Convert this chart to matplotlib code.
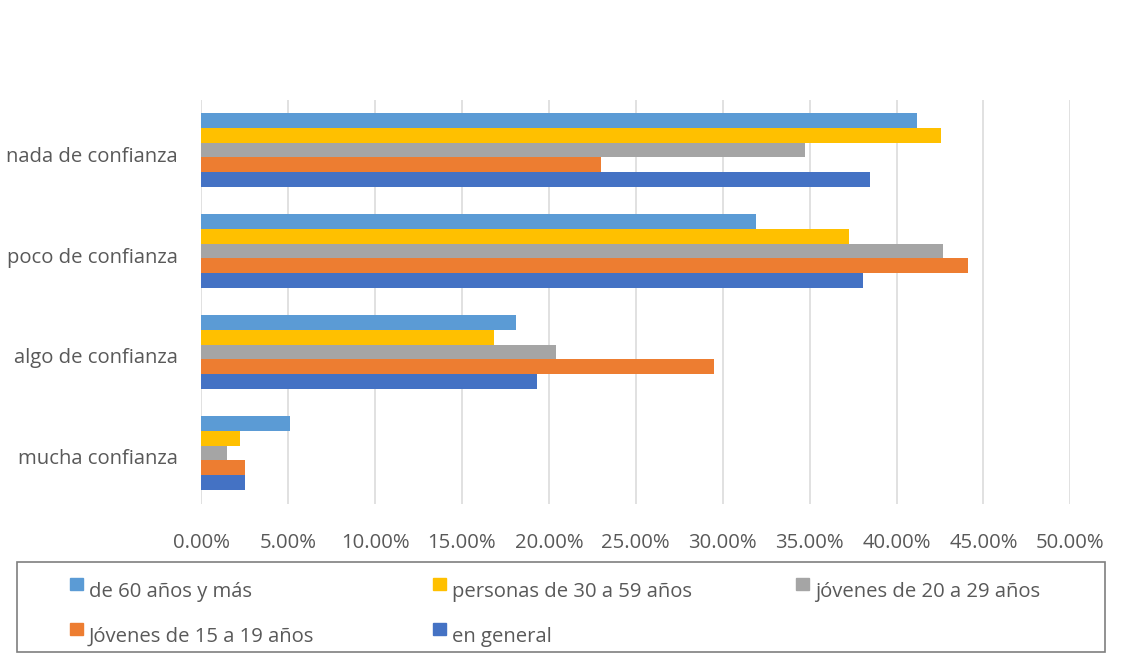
import numpy as np
import matplotlib.pyplot as plt
from matplotlib.patches import Rectangle
from matplotlib.transforms import ScaledTranslation

plt.rcParams['font.family'] = ['Open Sans', 'DejaVu Sans']

# categories, bottom to top as drawn
categories = ['mucha confianza', 'algo de confianza', 'poco de confianza', 'nada de confianza']

# series share (%) per category, same order as categories
series_labels = ['de 60 años y más', 'personas de 30 a 59 años', 'jóvenes de 20 a 29 años',
                 'Jóvenes de 15 a 19 años', 'en general']
de_60 = [5.10, 18.11, 31.92, 41.18]
de_30_59 = [2.22, 16.84, 37.27, 42.56]
de_20_29 = [1.48, 20.41, 42.67, 34.73]
de_15_19 = [2.51, 29.49, 44.11, 22.97]
general = [2.51, 19.31, 38.07, 38.47]
series = [de_60, de_30_59, de_20_29, de_15_19, general]
colors = ['#5B9BD5', '#FFC000', '#A5A5A5', '#ED7D31', '#4472C4']

xticks = np.arange(0, 55, 5)
text_col = '#595959'
fs = 14.6

W, H = 1134, 656
fig = plt.figure(figsize=(W / 100, H / 100), dpi=100)
ax = fig.add_axes([201.3 / W, 1 - 503.5 / H, (1070.3 - 201.3) / W, (503.5 - 99.5) / H])

bh = 0.1475
y = np.arange(len(categories))
for i, (vals, c) in enumerate(zip(series, colors)):
    # first series sits on top of each group
    off = (2 - i) * bh
    ax.barh(y + off, vals, height=bh, color=c, zorder=3)

ax.set_xlim(0, 50)
ax.set_ylim(-0.5, len(categories) - 0.5)
ax.set_xticks(xticks)
ax.set_xticklabels([f'{v:.2f}%' for v in xticks])
ax.set_yticks(y)
ax.set_yticklabels(categories)
ax.grid(axis='x', color='#D9D9D9', linewidth=1.1, zorder=0)
for s in ax.spines.values():
    s.set_visible(False)
ax.tick_params(axis='both', length=0, colors=text_col, labelsize=fs)
ax.tick_params(axis='x', pad=21)
ax.tick_params(axis='y', pad=17)

# nudge category labels slightly below the group centre
shift = ScaledTranslation(0, -4 / 100, fig.dpi_scale_trans)
for lbl in ax.get_yticklabels():
    lbl.set_transform(lbl.get_transform() + shift)

# legend box drawn by hand, three entries per row
def fx(px):
    return px / W

def fy(py):
    return 1 - py / H

fig.add_artist(Rectangle((fx(17), fy(652)), fx(1105) - fx(17), fy(562) - fy(652),
                         transform=fig.transFigure, fill=False, edgecolor='#7F7F7F', linewidth=1.2))
col_x = [70, 433, 796]
row_top = [578, 623]
row_base = [597, 642]
for k, (lab, c) in enumerate(zip(series_labels, colors)):
    r, cx = divmod(k, 3)
    x0 = col_x[cx]
    fig.add_artist(Rectangle((fx(x0), fy(row_top[r] + 12)), 13 / W, 12 / H,
                             transform=fig.transFigure, color=c))
    fig.text(fx(x0 + 19), fy(row_base[r]), lab, fontsize=fs, color=text_col, va='baseline')

fig.savefig('out.png', dpi=100)
